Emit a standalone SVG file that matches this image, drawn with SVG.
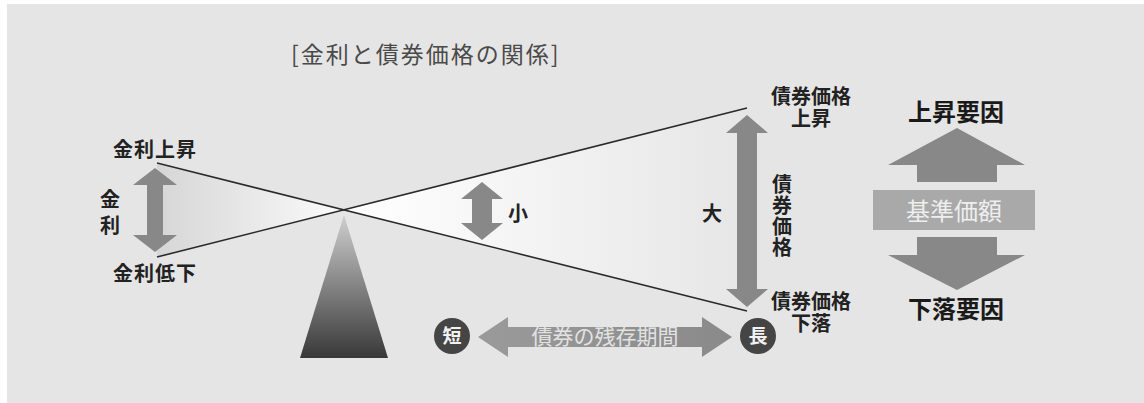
<svg xmlns="http://www.w3.org/2000/svg" width="1144" height="403" viewBox="0 0 1144 403">
  <defs>
    <linearGradient id="gLeft" x1="157" y1="0" x2="345" y2="0" gradientUnits="userSpaceOnUse">
      <stop offset="0" stop-color="#d6d6d6"/>
      <stop offset="1" stop-color="#fbfbfb"/>
    </linearGradient>
    <linearGradient id="gRight" x1="345" y1="0" x2="747" y2="0" gradientUnits="userSpaceOnUse">
      <stop offset="0" stop-color="#ffffff"/>
      <stop offset="1" stop-color="#e6e6e6"/>
    </linearGradient>
    <linearGradient id="gFulcrum" x1="0" y1="215" x2="0" y2="358" gradientUnits="userSpaceOnUse">
      <stop offset="0" stop-color="#cfcfcf"/>
      <stop offset="1" stop-color="#383838"/>
    </linearGradient>
    <linearGradient id="gHoriz" x1="478" y1="0" x2="732" y2="0" gradientUnits="userSpaceOnUse">
      <stop offset="0" stop-color="#9a9a9a"/>
      <stop offset="1" stop-color="#8a8a8a"/>
    </linearGradient>
    <style>
      text { font-family: "Noto Sans CJK JP", "Noto Sans", sans-serif; }
      .tight { font-family: "Liberation Sans", "Noto Sans CJK JP", sans-serif; }
      .lbl { font-size: 20px; font-weight: bold; fill: #222; }
      .big { font-size: 24px; font-weight: bold; fill: #1a1a1a; text-anchor: middle; }
      .mid { text-anchor: middle; }
      .vert { writing-mode: vertical-rl; text-anchor: start; }
      .arrow { fill: #888888; }
      .beam { stroke: #2a2a2a; stroke-width: 1.6; fill: none; }
    </style>
  </defs>

  <rect x="0" y="0" width="1144" height="403" fill="#ffffff"/>
  <rect id="background" x="7" y="4" width="1137" height="399" fill="#e5e5e5"/>

  <g id="title">
    <text x="291" y="63" font-size="23" letter-spacing="2" fill="#4a4a4a">[金利と債券価格の関係]</text>
  </g>

  <g id="wedges">
    <polygon points="157,163 345,210 157,257" fill="url(#gLeft)"/>
    <polygon points="345,210 747,108 747,311" fill="url(#gRight)"/>
  </g>

  <g id="fulcrum">
    <polygon points="344,215 388,358 300,358" fill="url(#gFulcrum)"/>
  </g>

  <g id="connectors">
    <line class="beam" x1="157" y1="163" x2="747" y2="311"/>
    <line class="beam" x1="157" y1="257" x2="747" y2="108"/>
  </g>

  <g id="rate-arrow">
    <polygon class="arrow" points="155,168 177,185 163,185 163,235 177,235 155,252 133,235 147,235 147,185 133,185"/>
    <text class="lbl vert" x="110" y="189" letter-spacing="6" fill="#333">金利</text>
  </g>

  <g id="rate-up">
    <text class="lbl" x="113" y="157" letter-spacing="1">金利上昇</text>
  </g>
  <g id="rate-down">
    <text class="lbl" x="113" y="281" letter-spacing="1">金利低下</text>
  </g>

  <g id="small-arrow">
    <polygon class="arrow" points="482,182 503,199 492,199 492,223 503,223 482,240 461,223 472,223 472,199 461,199"/>
    <text class="lbl" x="508" y="221">小</text>
  </g>

  <g id="large-arrow">
    <polygon class="arrow" points="747,115 768,133 757,133 757,289 768,289 747,307 726,289 737,289 737,133 726,133"/>
    <text class="lbl" x="702" y="221">大</text>
    <text class="lbl vert" x="782" y="174" letter-spacing="1.3" fill="#333">債券価格</text>
  </g>

  <g id="price-up">
    <text class="lbl mid tight"><tspan x="811" y="104">債券価格</tspan><tspan x="811" y="126">上昇</tspan></text>
  </g>
  <g id="price-down">
    <text class="lbl mid tight"><tspan x="811" y="309">債券価格</tspan><tspan x="811" y="331">下落</tspan></text>
  </g>

  <g id="maturity">
    <polygon fill="url(#gHoriz)" points="478,337 508,317 508,327 702,327 702,317 732,337 702,357 702,347 508,347 508,357"/>
    <text class="mid" x="605" y="344" font-size="21" fill="#e2e2e2">債券の残存期間</text>
  </g>
  <g id="short">
    <circle cx="452" cy="336" r="18" fill="#454545"/>
    <text class="mid" x="452" y="343" font-size="19" font-weight="bold" fill="#f2f2f2">短</text>
  </g>
  <g id="long">
    <circle cx="758" cy="336" r="18" fill="#454545"/>
    <text class="mid" x="758" y="343" font-size="19" font-weight="bold" fill="#f2f2f2">長</text>
  </g>

  <g id="up-factor">
    <text class="big" x="956" y="121">上昇要因</text>
    <polygon class="arrow" points="957,128 1025,165 997,165 997,182 917,182 917,165 888,165"/>
  </g>
  <g id="base-price">
    <rect x="873" y="190" width="162" height="40" fill="#a9a9a9"/>
    <text class="mid" x="954" y="220" font-size="24" fill="#eeeeee">基準価額</text>
  </g>
  <g id="down-factor">
    <polygon class="arrow" points="917,237 997,237 997,255 1025,255 957,290 888,255 917,255"/>
    <text class="big" x="956" y="318">下落要因</text>
  </g>
</svg>
